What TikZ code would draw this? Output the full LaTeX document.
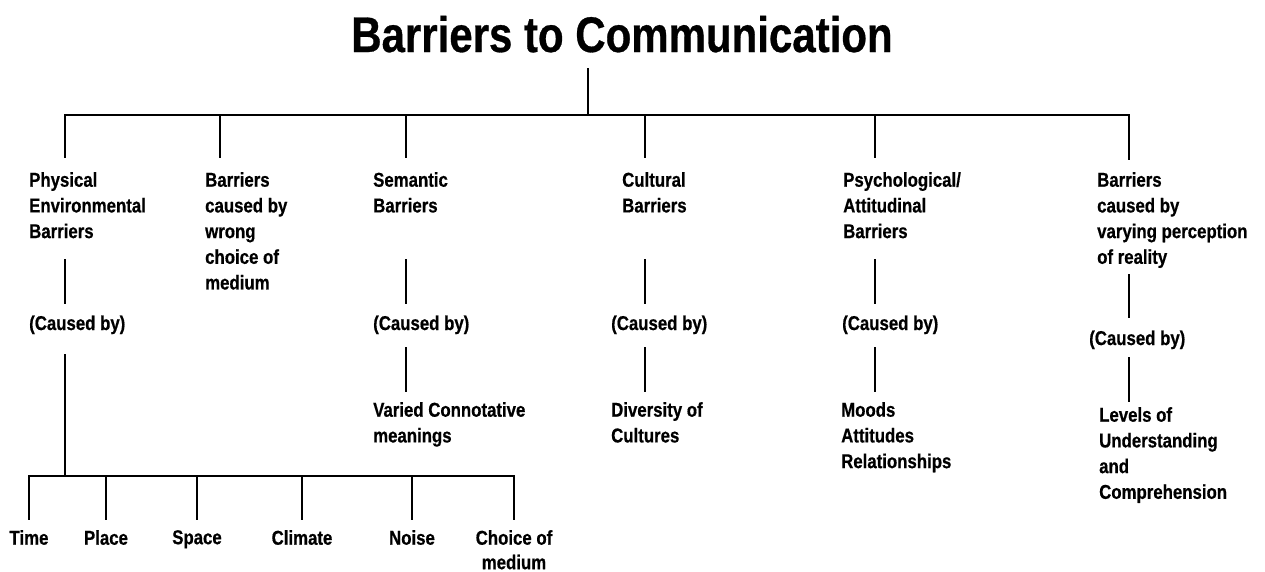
\documentclass[tikz,border=0pt]{standalone}
\usepackage{fontspec}
\setmainfont{Liberation Sans}[FakeStretch=0.84, BoldFeatures={FakeBold=0.6}]
\begin{document}
\begin{tikzpicture}[x=1pt,y=-1pt,
  lbl/.style={inner sep=0pt, align=left, anchor=north west, font=\fontsize{20}{25.7}\selectfont\bfseries},
  cause/.style={inner sep=0pt, anchor=base west, font=\fontsize{20}{25.7}\selectfont\bfseries},
  leaf/.style={inner sep=0pt, align=center, anchor=north, font=\fontsize{20}{24.5}\selectfont\bfseries},
  bar/.style={line width=2.2pt, line cap=rect},
  stem/.style={line width=1.5pt}]
\useasboundingbox (0,0) rectangle (1265,571);
\fill[white] (0,0) rectangle (1265,571);

% title
\node[inner sep=0pt, anchor=base, font=\fontsize{50}{60}\selectfont\bfseries] (title) at (622,52) {Barriers to Communication};
\coordinate (t0) at (588,68);
\coordinate (t1) at (588,115);
\draw[stem] (t0) -- (t1);

% main bar
\foreach \i/\x in {1/65,2/220,3/406,4/645,5/875,6/1129} {
  \coordinate (b\i) at (\x,115);
}
\coordinate (d1) at (65,158);
\coordinate (d2) at (220,158);
\coordinate (d3) at (406,158);
\coordinate (d4) at (645,158);
\coordinate (d5) at (875,158);
\coordinate (d6) at (1129,160);
\draw[bar] (b1) -- (b6);
\foreach \i in {1,...,6} { \draw[stem] (b\i) -- (d\i); }

% first level labels
\node[lbl] (p1) at (29,172) {Physical\\Environmental\\Barriers};
\node[lbl] (p2) at (205,172) {Barriers\\caused by\\wrong\\choice of\\medium};
\node[lbl] (p3) at (373,172) {Semantic\\Barriers};
\node[lbl] (p4) at (622,172) {Cultural\\Barriers};
\node[lbl] (p5) at (843,172) {Psychological/\\Attitudinal\\Barriers};
\node[lbl] (p6) at (1097,172) {Barriers\\caused by\\varying perception\\of reality};

% stems to (Caused by)
\coordinate (u1) at (65,259);  \coordinate (v1) at (65,304);
\coordinate (u3) at (406,259); \coordinate (v3) at (406,304);
\coordinate (u4) at (645,259); \coordinate (v4) at (645,304);
\coordinate (u5) at (875,259); \coordinate (v5) at (875,304);
\coordinate (u6) at (1129,274); \coordinate (v6) at (1129,318);
\foreach \i in {1,3,4,5,6} { \draw[stem] (u\i) -- (v\i); }

\node[cause] (c1) at (29,330) {(Caused by)};
\node[cause] (c3) at (373,330) {(Caused by)};
\node[cause] (c4) at (611,330) {(Caused by)};
\node[cause] (c5) at (842,330) {(Caused by)};
\node[cause] (c6) at (1089,345) {(Caused by)};

% stems to causes
\coordinate (w1) at (65,354);  \coordinate (s1) at (65,476);
\coordinate (w3) at (406,347); \coordinate (z3) at (406,392);
\coordinate (w4) at (645,347); \coordinate (z4) at (645,392);
\coordinate (w5) at (875,347); \coordinate (z5) at (875,392);
\coordinate (w6) at (1129,357); \coordinate (z6) at (1129,402);
\draw[stem] (w1) -- (s1);
\foreach \i in {3,4,5,6} { \draw[stem] (w\i) -- (z\i); }

\node[lbl] (q3) at (373,402) {Varied Connotative\\meanings};
\node[lbl] (q4) at (611,402) {Diversity of\\Cultures};
\node[lbl] (q5) at (841,402) {Moods\\Attitudes\\Relationships};
\node[lbl] (q6) at (1099,407) {Levels of\\Understanding\\and\\Comprehension};

% physical sub tree
\foreach \i/\x in {1/29,2/106,3/197,4/302,5/412,6/514} {
  \coordinate (k\i) at (\x,476);
  \coordinate (m\i) at (\x,520);
}
\draw[bar] (k1) -- (k6);
\foreach \i in {1,...,6} { \draw[stem] (k\i) -- (m\i); }

\node[leaf] (f1) at (29,530) {Time};
\node[leaf] (f2) at (106,530) {Place};
\node[leaf] (f3) at (197,530) {Space};
\node[leaf] (f4) at (302,530) {Climate};
\node[leaf] (f5) at (412,530) {Noise};
\node[leaf] (f6) at (514,530) {Choice of\\medium};
\end{tikzpicture}
\end{document}
